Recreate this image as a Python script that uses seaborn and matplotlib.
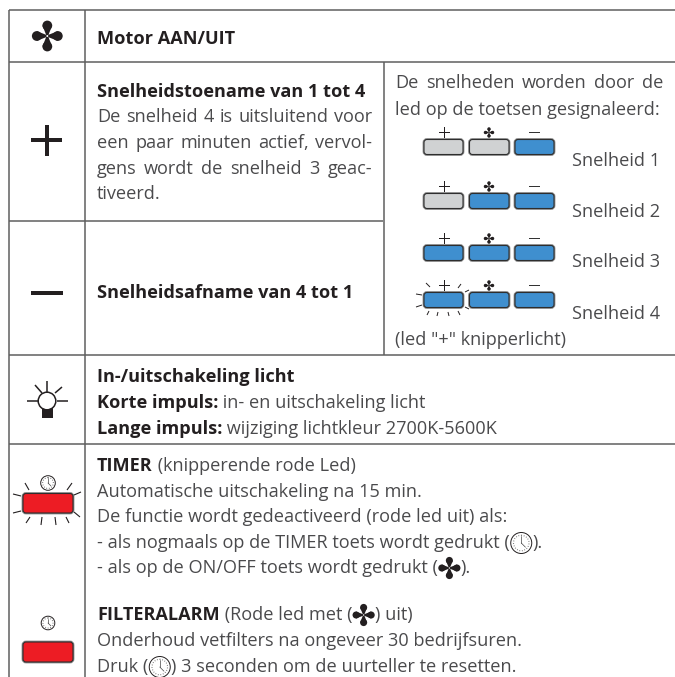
import matplotlib
matplotlib.use("Agg")
import matplotlib.pyplot as plt
import seaborn as sns
from matplotlib.patches import FancyBboxPatch, Circle, Polygon, Rectangle

# ---- content ----
speed_labels = ["Snelheid 1", "Snelheid 2", "Snelheid 3", "Snelheid 4"]
key_states = [[0, 0, 1], [0, 1, 1], [1, 1, 1], [1, 1, 1]]
key_colors = ["#d0d2d3", "#3f8fcf"]
title_motor = "Motor AAN/UIT"
title_up = "Snelheidstoename van 1 tot 4"
body_up = ["De snelheid 4 is uitsluitend voor", "een paar minuten actief, vervol-",
           "gens wordt de snelheid 3 geac-", "tiveerd."]
title_down = "Snelheidsafname van 4 tot 1"
right_lines = ["De snelheden worden door de", "led op de toetsen gesignaleerd:"]
right_note = '(led "+" knipperlicht)'

INK = "#231f20"
TXT = "#4a4a4c"
LINE = "#5f5f5f"
RED = "#ed1c24"
FONT = "Open Sans"
FS = 13.1

sns.set_theme(style="white", rc={"font.family": FONT})
fig = plt.figure(figsize=(6.75, 6.77), dpi=100)
ax = fig.add_axes([0, 0, 1, 1])
ax.set_xlim(0, 675)
ax.set_ylim(677, 0)
ax.axis("off")
R = fig.canvas.get_renderer()


def width(t, bold=False, fs=FS):
    a = ax.text(0, 0, t.replace(" ", "\u00a0"), fontsize=fs, fontweight="bold" if bold else "normal")
    w = a.get_window_extent(R).width
    a.remove()
    return w


def runs(x, y, parts):
    """parts: (text, bold) strings or callables drawing an icon of a given width"""
    for p in parts:
        if callable(p[0]):
            p[0](x + p[1] / 2, y - 5)
            x += p[1]
            continue
        t, b = p
        ax.text(x, y, t.replace(" ", "\u00a0"), fontsize=FS, fontweight="bold" if b else "normal",
                color=INK if b else TXT, va="baseline", ha="left")
        x += width(t, b)


def just(x0, x1, y, s):
    words = s.split(" ")
    total = sum(width(w) for w in words)
    gap = (x1 - x0 - total) / (len(words) - 1)
    x = x0
    for w in words:
        ax.text(x, y, w, fontsize=FS, color=TXT, va="baseline", ha="left")
        x += width(w) + gap


def hline(y, x0, x1):
    ax.plot([x0, x1], [y, y], color=LINE, lw=1.1, solid_capstyle="butt")


def vline(x, y0, y1):
    ax.plot([x, x], [y0, y1], color=LINE, lw=1.1, solid_capstyle="butt")


def fan(cx, cy, s=1.0):
    r, d = 4.9 * s, 10.5 * s
    for ux, uy in [(1, 0), (-1, 0), (0, 1), (0, -1)]:
        px, py = -uy, ux
        ax.add_patch(Circle((cx + ux * d, cy + uy * d), r, fc=INK, ec="none", zorder=3))
        ax.add_patch(Polygon([(cx - px * 0.7 * s, cy - py * 0.7 * s),
                              (cx + px * 0.7 * s, cy + py * 0.7 * s),
                              (cx + ux * d + px * r, cy + uy * d + py * r),
                              (cx + ux * d - px * r, cy + uy * d - py * r)],
                             fc=INK, ec="none", zorder=3))
    ax.add_patch(Circle((cx, cy), 1.7 * s, fc=INK, ec="none", zorder=3))
    ax.add_patch(Circle((cx, cy), 1.0 * s, fc="white", ec="none", zorder=4))


def clock(cx, cy, r):
    ax.add_patch(Circle((cx, cy), r, fc="white", ec=INK, lw=0.7, zorder=3))
    ax.add_patch(Circle((cx, cy), r * 0.74, fc="none", ec="#666666", lw=0.8, ls=(0, (0.7, 1.6)), zorder=3))
    ax.plot([cx, cx], [cy - r * 0.62, cy], color="#444444", lw=0.5, zorder=4)
    ax.plot([cx, cx + r * 0.4], [cy, cy + r * 0.4], color="#444444", lw=0.5, zorder=4)


def key(x0, y0, x1, y1, color, rad=3.0):
    for ec, lw, fc in [("#8c8c8c", 2.0, color), ("#2e2e2e", 0.8, color)]:
        ax.add_patch(FancyBboxPatch((x0 + rad, y0 + rad), x1 - x0 - 2 * rad, y1 - y0 - 2 * rad,
                                    boxstyle=f"round,pad={rad},rounding_size={rad}",
                                    fc=fc, ec=ec, lw=lw, zorder=2))


def rays(segs, lw=0.8):
    for (a, b, c, d) in segs:
        ax.plot([a, c], [b, d], color=INK, lw=lw, zorder=2, solid_capstyle="butt")


# ---- grid ----
hline(10, 9, 675)
hline(62, 9, 675)
hline(221, 9, 383)
hline(354.5, 9, 675)
hline(444, 9, 675)
vline(9, 10, 677)
vline(85, 10, 677)
vline(383.5, 62, 354.5)

# ---- left icons ----
fan(47.3, 36)
ax.add_patch(Rectangle((31, 138), 31, 4, fc=INK, ec="none"))
ax.add_patch(Rectangle((44.5, 125), 4, 31, fc=INK, ec="none"))
ax.add_patch(Rectangle((31, 290.5), 32, 4, fc=INK, ec="none"))

# bulb
ax.add_patch(Rectangle((42, 407), 11, 11, fc=INK, ec="none"))
ax.add_patch(Circle((47, 401), 8.8, fc="white", ec=INK, lw=1.1, zorder=3))
rays([(27, 401, 38, 401), (57, 401, 68, 401), (47, 381, 47, 392),
      (35, 385, 42, 393), (62, 387, 55, 393)], lw=1.1)

# timer key
key(23, 493.5, 73, 513, RED)
clock(48, 483, 7.3)
rays([(25, 483, 29, 490), (72, 483, 67, 490), (13, 494, 21, 496), (81, 492, 74, 495),
      (13, 513, 21, 511), (80, 517, 74, 512), (26, 523, 30, 517), (41, 525, 42, 517),
      (56, 525, 55, 517), (69, 523, 66, 517)])

# alarm key
key(23, 642, 73, 662, RED)
clock(48, 623, 6.8)

# ---- text left ----
ax.text(97, 44, title_motor, fontsize=FS, fontweight="bold", color=INK)
ax.text(97, 97, title_up, fontsize=FS, fontweight="bold", color=INK)
just(97, 372, 122.5, body_up[0])
just(97, 372, 148, body_up[1])
just(97, 372, 174, body_up[2])
ax.text(97, 199, body_up[3], fontsize=FS, color=TXT)
ax.text(97, 298, title_down, fontsize=FS, fontweight="bold", color=INK)

# ---- right cell ----
just(395, 663, 88, right_lines[0])
ax.text(395, 115, right_lines[1], fontsize=FS, color=TXT)
ax.text(395, 345, right_note, fontsize=FS, color=TXT)

key_x = [(424, 463), (469.5, 509), (515, 554)]
key_y = [147, 201, 253, 300]
lab_y = [166, 217, 267, 319]
for st, lab, yc, ly in zip(key_states, speed_labels, key_y, lab_y):
    for (a, b), s in zip(key_x, st):
        key(a, yc - 7.5, b, yc + 7.5, key_colors[s])
    ax.add_patch(Rectangle((439, yc - 15.3), 11, 1.7, fc=INK, ec="none"))
    ax.add_patch(Rectangle((443.7, yc - 20), 1.7, 11, fc=INK, ec="none"))
    ax.add_patch(Rectangle((528.5, yc - 15.3), 11, 1.5, fc="#333333", ec="none"))
    fan(489, yc - 14.5, 0.34)
    ax.text(572, ly, lab, fontsize=FS, color=TXT)
rays([(430, 287, 426, 283), (458, 288, 461, 284), (465, 292, 469, 290), (416, 294, 422, 295),
      (416, 307, 422, 305), (465, 307, 469, 309), (427, 315, 429, 311), (437, 316, 438, 312),
      (449, 316, 448, 312), (460, 315, 458, 311)], lw=0.7)

# ---- lower text ----
runs(97, 382, [("In-/uitschakeling licht", True)])
runs(97, 408, [("Korte impuls:", True), (" in- en uitschakeling licht", False)])
runs(97, 434, [("Lange impuls:", True), (" wijziging lichtkleur 2700K-5600K", False)])
runs(97, 471, [("TIMER", True), (" (knipperende rode Led)", False)])
runs(97, 497, [("Automatische uitschakeling na 15 min.", False)])
runs(97, 522, [("De functie wordt gedeactiveerd (rode led uit) als:", False)])
ck = lambda x, y: clock(x, y, 10.5)
fn = lambda x, y: fan(x, y, 0.72)
runs(97, 548, [("- als nogmaals op de TIMER toets wordt gedrukt (", False), (ck, 23), (").", False)])
runs(97, 573, [("- als op de ON/OFF toets wordt gedrukt (", False), (fn, 23), (").", False)])
runs(97, 620, [("FILTERALARM", True), (" (Rode led met (", False), (fn, 23), (") uit)", False)])
runs(97, 646, [("Onderhoud vetfilters na ongeveer 30 bedrijfsuren.", False)])
runs(97, 672, [("Druk (", False), (ck, 23), (") 3 seconden om de uurteller te resetten.", False)])

fig.savefig("out.png", dpi=100, facecolor="white")
